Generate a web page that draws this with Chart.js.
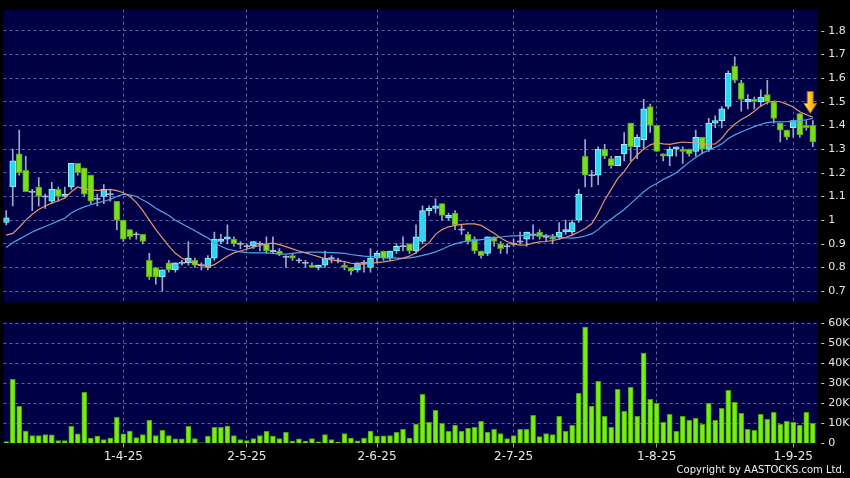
<!DOCTYPE html>
<html>
<head>
<meta charset="utf-8">
<script src="https://cdn.jsdelivr.net/npm/chart.js@4.4.1/dist/chart.umd.min.js"></script>
<style>
    html, body { margin: 0; padding: 0; background: #000; }
    #wrap { position: relative; width: 850px; height: 478px; background: #000; overflow: hidden; }
    canvas { position: absolute; left: 0; }
    #copy { position: absolute; right: 5px; top: 464px; font: 10px "DejaVu Sans", sans-serif; color: #f0f0f0; }
</style>
</head>
<body>
<div id="wrap">
    <canvas id="price" width="850" height="312" style="top:0"></canvas>
    <canvas id="vol" width="850" height="166" style="top:312px"></canvas>
    <div id="copy">Copyright by AASTOCKS.com Ltd.</div>
</div>
<script>
// 日線資料 (index 0 = 6-3-25 ... 124 = 4-9-25)
const openP = [0.99,1.14,1.28,1.21,1.12,1.14,1.10,1.08,1.13,1.10,1.14,1.24,1.22,1.19,1.09,1.10,1.11,1.08,1.00,0.96,
    0.94,0.94,0.83,0.80,0.76,0.82,0.79,0.82,0.82,0.83,0.81,0.80,0.84,0.91,0.92,0.92,0.90,0.89,0.89,0.90,
    0.90,0.87,0.87,0.845,0.85,0.83,0.82,0.81,0.80,0.81,0.84,0.83,0.81,0.80,0.79,0.82,0.80,0.84,0.87,0.84,
    0.87,0.89,0.90,0.87,0.91,1.04,1.05,1.07,1.01,1.03,0.96,0.94,0.92,0.87,0.86,0.93,0.90,0.89,0.90,0.91,
    0.92,0.94,0.95,0.93,0.93,0.93,0.95,0.95,1.00,1.27,1.19,1.19,1.30,1.26,1.23,1.28,1.41,1.31,1.34,1.48,
    1.40,1.28,1.27,1.30,1.30,1.30,1.29,1.35,1.30,1.41,1.42,1.48,1.65,1.58,1.50,1.51,1.50,1.53,1.50,1.41,
    1.38,1.39,1.45,1.40,1.40];
const highP = [1.04,1.30,1.38,1.27,1.13,1.18,1.11,1.16,1.14,1.14,1.24,1.24,1.22,1.19,1.11,1.15,1.13,1.08,1.00,0.96,
    0.95,0.94,0.86,0.80,0.79,0.83,0.82,0.83,0.91,0.84,0.82,0.85,0.95,0.94,0.98,0.93,0.91,0.90,0.91,0.91,
    0.93,0.93,0.88,0.85,0.86,0.84,0.83,0.82,0.81,0.87,0.85,0.84,0.82,0.80,0.82,0.83,0.88,0.87,0.87,0.87,
    0.90,0.93,0.90,0.98,1.06,1.06,1.09,1.07,1.03,1.04,0.98,0.95,0.93,0.87,0.93,0.93,0.91,0.90,0.92,0.95,
    0.95,0.98,0.96,0.94,0.94,0.99,1.00,1.00,1.13,1.34,1.21,1.31,1.32,1.27,1.27,1.37,1.41,1.36,1.51,1.49,
    1.40,1.28,1.31,1.31,1.31,1.30,1.38,1.35,1.43,1.44,1.48,1.63,1.69,1.59,1.53,1.52,1.55,1.59,1.50,1.41,
    1.38,1.42,1.45,1.42,1.42];
const lowP = [0.98,1.06,1.19,1.12,1.04,1.06,1.05,1.07,1.08,1.10,1.13,1.19,1.10,1.07,1.06,1.07,1.08,0.96,0.91,0.92,
    0.92,0.90,0.75,0.73,0.70,0.78,0.78,0.81,0.81,0.80,0.79,0.79,0.83,0.90,0.90,0.89,0.88,0.88,0.88,0.87,
    0.86,0.86,0.85,0.80,0.83,0.82,0.80,0.80,0.79,0.80,0.82,0.82,0.79,0.77,0.78,0.78,0.78,0.82,0.83,0.83,
    0.86,0.87,0.86,0.86,0.90,1.02,1.03,1.00,1.00,0.96,0.94,0.90,0.86,0.84,0.85,0.89,0.86,0.86,0.89,0.90,
    0.89,0.92,0.92,0.91,0.90,0.92,0.94,0.94,0.99,1.14,1.14,1.15,1.26,1.22,1.23,1.25,1.25,1.26,1.30,1.37,
    1.29,1.25,1.23,1.27,1.24,1.27,1.27,1.28,1.29,1.39,1.39,1.47,1.58,1.46,1.47,1.47,1.48,1.49,1.41,1.33,
    1.34,1.35,1.35,1.38,1.31];
const closeP = [1.01,1.25,1.20,1.12,1.12,1.10,1.10,1.13,1.10,1.11,1.24,1.20,1.11,1.08,1.09,1.13,1.11,1.00,0.92,0.93,
    0.94,0.91,0.76,0.76,0.79,0.79,0.82,0.82,0.84,0.81,0.81,0.84,0.92,0.92,0.93,0.90,0.90,0.89,0.91,0.90,
    0.87,0.87,0.855,0.845,0.84,0.83,0.82,0.80,0.81,0.84,0.84,0.83,0.80,0.785,0.82,0.82,0.84,0.86,0.84,0.87,
    0.89,0.89,0.87,0.93,1.04,1.05,1.06,1.02,1.02,0.98,0.96,0.91,0.87,0.85,0.93,0.91,0.88,0.89,0.90,0.91,
    0.95,0.94,0.93,0.93,0.92,0.95,0.96,0.99,1.11,1.19,1.19,1.30,1.27,1.23,1.27,1.32,1.31,1.35,1.47,1.40,
    1.29,1.27,1.30,1.31,1.29,1.28,1.35,1.30,1.41,1.42,1.47,1.62,1.59,1.51,1.51,1.50,1.52,1.50,1.43,1.38,
    1.35,1.42,1.36,1.39,1.33];
// 10日 (橙) / 20日 (藍) 平均線
const ma10 = [0.937,0.944,0.97,1.0,1.025,1.045,1.06,1.072,1.082,1.093,1.12,1.14,1.132,1.128,1.126,1.127,1.13,1.125,1.116,1.10,
    1.075,1.04,1.00,0.96,0.925,0.89,0.86,0.84,0.827,0.815,0.81,0.803,0.812,0.83,0.848,0.862,0.87,0.877,0.886,0.893,
    0.90,0.903,0.897,0.888,0.879,0.87,0.862,0.854,0.846,0.837,0.832,0.828,0.825,0.818,0.814,0.814,0.818,0.821,0.824,0.828,
    0.833,0.84,0.848,0.862,0.885,0.905,0.94,0.96,0.972,0.978,0.982,0.984,0.984,0.978,0.962,0.945,0.925,0.91,0.90,0.895,
    0.896,0.903,0.908,0.91,0.914,0.92,0.928,0.937,0.95,0.965,0.985,1.03,1.085,1.13,1.175,1.205,1.245,1.275,1.30,1.318,
    1.326,1.322,1.32,1.325,1.33,1.328,1.326,1.322,1.32,1.322,1.345,1.38,1.405,1.425,1.44,1.46,1.482,1.497,1.503,1.50,
    1.49,1.478,1.458,1.445,1.435];
const ma20 = [0.885,0.905,0.92,0.935,0.95,0.962,0.973,0.985,0.997,1.008,1.03,1.045,1.056,1.065,1.073,1.08,1.088,1.10,1.11,1.107,
    1.10,1.085,1.07,1.05,1.035,1.02,1.0,0.985,0.97,0.955,0.94,0.925,0.905,0.89,0.878,0.872,0.866,0.863,0.862,0.862,
    0.862,0.86,0.858,0.857,0.86,0.863,0.864,0.865,0.865,0.864,0.863,0.862,0.86,0.855,0.851,0.848,0.846,0.844,0.842,0.841,
    0.84,0.839,0.841,0.845,0.851,0.858,0.866,0.877,0.89,0.90,0.907,0.912,0.914,0.918,0.921,0.925,0.929,0.932,0.934,0.935,
    0.936,0.937,0.936,0.935,0.932,0.928,0.925,0.924,0.927,0.933,0.942,0.96,0.985,1.005,1.025,1.045,1.07,1.095,1.12,1.14,
    1.155,1.172,1.185,1.20,1.222,1.245,1.265,1.283,1.295,1.308,1.322,1.345,1.36,1.372,1.384,1.395,1.405,1.412,1.415,1.415,
    1.416,1.418,1.42,1.424,1.43];
// 成交量 (股)
const volume = [1000,32000,18500,6200,4000,4000,4500,4300,1500,1500,8500,4800,25500,2700,3700,2000,2700,13000,4800,6200,
    3000,4500,11500,4000,6500,4000,2300,2300,8500,2500,300,3700,8000,8000,8700,4000,2000,1500,2500,4000,
    6000,3700,2500,5500,1200,2300,1200,2500,800,4500,2000,700,5000,2700,1300,2700,6200,3700,3800,4000,
    5500,7000,2700,9500,24500,10500,16500,10000,6000,9000,6000,7500,8000,11000,5500,7000,5000,2500,4000,7000,
    7000,14000,3500,5000,4500,13500,6000,9000,25000,58000,18500,31000,13500,8000,27000,16000,28000,13500,45000,22000,
    20000,10500,14500,6000,13500,11500,12500,9500,20000,11500,17500,26500,20500,15000,7000,6500,14500,12000,15500,9500,
    11000,10500,9000,15500,10000];
// 刻度
const tickIdx = [18, 37, 57, 78, 100, 121];
const tickLabels = ['1-4-25', '2-5-25', '2-6-25', '2-7-25', '1-8-25', '1-9-25'];
const priceTicks = [0.7, 0.8, 0.9, 1.0, 1.1, 1.2, 1.3, 1.4, 1.5, 1.6, 1.7, 1.8];
const volTicks = [0, 10000, 20000, 30000, 40000, 50000, 60000];

const X_MIN = -0.42, X_MAX = 124.75;
const GRID = 'rgba(130,130,185,0.75)';
const FONT = 'DejaVu Sans';

// 背景: 外框黑色, 圖表區深藍
const bgPlugin = {
    id: 'bg',
    beforeDraw(chart) {
        const { ctx, chartArea: a } = chart;
        ctx.save();
        ctx.fillStyle = '#000';
        ctx.fillRect(0, 0, chart.width, chart.height);
        ctx.fillStyle = '#000046';
        ctx.fillRect(a.left, a.top, a.right - a.left, a.bottom - a.top);
        ctx.restore();
    }
};

// 黃色向下箭頭
const arrowPlugin = {
    id: 'arrow',
    afterDatasetsDraw(chart) {
        const { ctx, scales } = chart;
        const x = scales.x.getPixelForValue(123.6);
        const tip = scales.y.getPixelForValue(1.451);
        const top = scales.y.getPixelForValue(1.543);
        const headY = tip - 10;
        ctx.save();
        const g = ctx.createLinearGradient(x - 6, 0, x + 6, 0);
        g.addColorStop(0, '#ffe98a');
        g.addColorStop(0.5, '#ffc61a');
        g.addColorStop(1, '#e89a00');
        ctx.fillStyle = g;
        ctx.strokeStyle = '#a86e00';
        ctx.lineWidth = 1;
        ctx.beginPath();
        ctx.moveTo(x - 3, top);
        ctx.lineTo(x + 3, top);
        ctx.lineTo(x + 3, headY);
        ctx.lineTo(x + 6.5, headY);
        ctx.lineTo(x, tip);
        ctx.lineTo(x - 6.5, headY);
        ctx.lineTo(x - 3, headY);
        ctx.closePath();
        ctx.fill();
        ctx.stroke();
        ctx.restore();
    }
};

// 陰陽燭: 影線與實體用浮動柱
const wickData = openP.map((o, i) => ({ x: i, y: [lowP[i], highP[i]] }));
const bodyData = openP.map((o, i) => {
    const c = closeP[i];
    if (Math.abs(o - c) < 0.004) return { x: i, y: [c - 0.0025, c + 0.0025] };
    return { x: i, y: [Math.min(o, c), Math.max(o, c)] };
});
const bodyFill = openP.map((o, i) => {
    const c = closeP[i];
    if (Math.abs(o - c) < 0.004) return '#b4c8e4';
    return c > o ? '#2ad6f0' : '#78e01a';
});
const bodyBorder = openP.map((o, i) => {
    const c = closeP[i];
    if (Math.abs(o - c) < 0.004) return '#b4c8e4';
    return c > o ? '#9cf0ff' : '#5c9c22';
});

function xScale(showLabels) {
    return {
        type: 'linear',
        min: X_MIN,
        max: X_MAX,
        offset: false,
        afterBuildTicks: s => { s.ticks = tickIdx.map(v => ({ value: v })); },
        afterFit: s => { s.height = showLabels ? 34.5 : 0; },
        ticks: {
            display: showLabels,
            color: '#e8e8e8',
            font: { family: FONT, size: 12 },
            padding: 2,
            maxRotation: 0,
            autoSkip: false,
            callback: v => tickLabels[tickIdx.indexOf(v)]
        },
        grid: {
            color: GRID,
            offset: false,
            drawTicks: showLabels,
            tickLength: 4,
            tickColor: '#9a9a9a',
            tickBorderDash: []
        },
        border: { display: false, dash: [3, 3] }
    };
}

new Chart(document.getElementById('price').getContext('2d'), {
    data: {
        datasets: [
            {
                type: 'line',
                label: 'MA10',
                data: ma10.map((v, i) => ({ x: i, y: v })),
                borderColor: '#e8946c',
                borderWidth: 1.2,
                pointRadius: 0,
                order: 0
            },
            {
                type: 'line',
                label: 'MA20',
                data: ma20.map((v, i) => ({ x: i, y: v })),
                borderColor: '#4aa6ea',
                borderWidth: 1.2,
                pointRadius: 0,
                order: 0
            },
            {
                type: 'bar',
                label: 'body',
                data: bodyData,
                backgroundColor: bodyFill,
                borderColor: bodyBorder,
                borderWidth: 1,
                borderSkipped: false,
                barThickness: 6,
                grouped: false,
                order: 1
            },
            {
                type: 'bar',
                label: 'wick',
                data: wickData,
                backgroundColor: '#a0a8c8',
                barThickness: 1,
                grouped: false,
                order: 2
            }
        ]
    },
    options: {
        responsive: false,
        animation: false,
        layout: { padding: { left: 3.5, top: 5, right: 0, bottom: 6 } },
        plugins: { legend: { display: false }, tooltip: { enabled: false } },
        scales: {
            x: xScale(false),
            y: {
                position: 'right',
                min: 0.6528,
                max: 1.889,
                afterBuildTicks: s => { s.ticks = priceTicks.map(v => ({ value: v })); },
                afterFit: s => { s.width = 32.3; },
                ticks: {
                    color: '#e6e6e6',
                    font: { family: FONT, size: 11 },
                    padding: 3,
                    callback: v => '- ' + String(Number(v.toFixed(1)))
                },
                grid: { color: GRID, drawTicks: false },
                border: { display: false, dash: [3, 3] }
            }
        }
    },
    plugins: [bgPlugin, arrowPlugin]
});

new Chart(document.getElementById('vol').getContext('2d'), {
    type: 'bar',
    data: {
        datasets: [{
            label: 'Volume',
            data: volume.map((v, i) => ({ x: i, y: v })),
            backgroundColor: '#76ee12',
            borderColor: '#4c9e10',
            borderWidth: 1,
            borderSkipped: 'bottom',
            barThickness: 5
        }]
    },
    options: {
        responsive: false,
        animation: false,
        layout: { padding: { left: 3.5, top: 7.3, right: 0, bottom: 0 } },
        plugins: { legend: { display: false }, tooltip: { enabled: false } },
        scales: {
            x: xScale(true),
            y: {
                position: 'right',
                min: 0,
                max: 60700,
                afterBuildTicks: s => { s.ticks = volTicks.map(v => ({ value: v })); },
                afterFit: s => { s.width = 32.3; },
                ticks: {
                    color: '#e6e6e6',
                    font: { family: FONT, size: 11 },
                    padding: 3,
                    callback: v => '- ' + (v === 0 ? '0' : (v / 1000) + 'K')
                },
                grid: {
                    color: c => (c.tick && c.tick.value === 0) ? 'rgba(0,0,0,0)' : GRID,
                    drawTicks: false
                },
                border: { display: false, dash: [3, 3] }
            }
        }
    },
    plugins: [bgPlugin]
});
</script>
</body>
</html>
